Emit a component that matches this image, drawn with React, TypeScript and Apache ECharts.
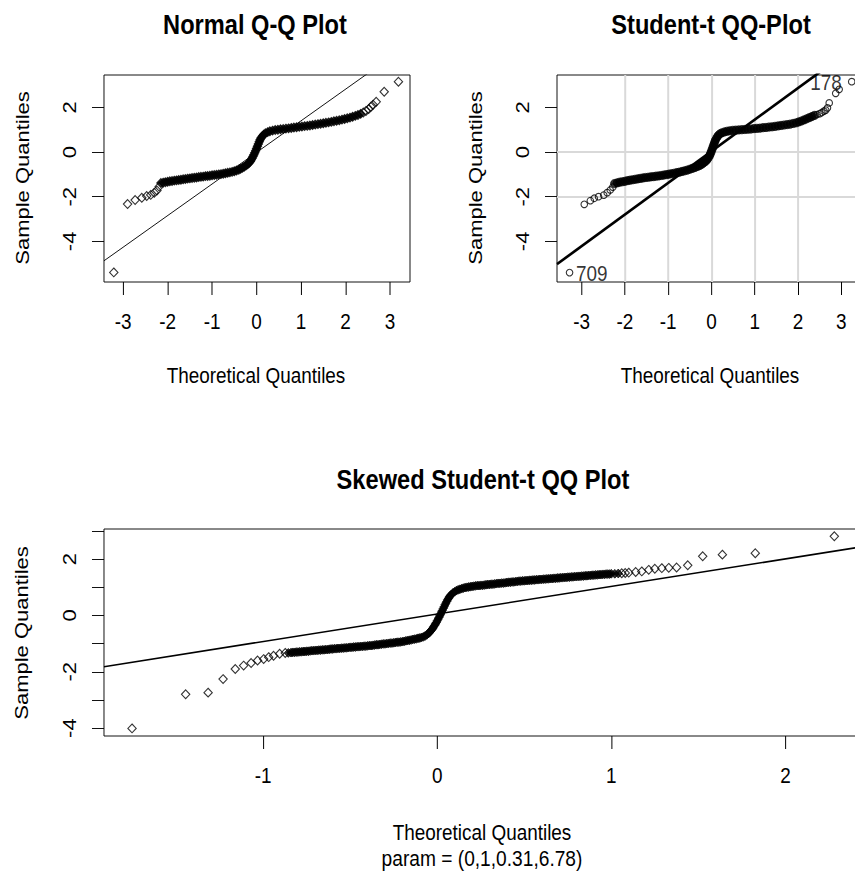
import React, { useEffect, useRef } from 'react';
import * as echarts from 'echarts';

const FONT = '"Liberation Sans", Arial, Helvetica, sans-serif';
const SX = 0.86; // the reference is horizontally compressed
const INNER_W = 1100;

// [theoretical quantile, sample quantile] pairs
// Normal Q-Q
const normalLowTail: number[][] = [
  [-3.21, -5.39], [-2.90, -2.33], [-2.73, -2.15], [-2.58, -2.05], [-2.47, -1.97], [-2.38, -1.92], [-2.30, -1.82], [-2.24, -1.72], [-2.19, -1.55],
];
const normalBody: number[][] = [
  [-2.15, -1.39], [-2.10, -1.37], [-2.05, -1.35], [-2.00, -1.33], [-1.95, -1.31], [-1.90, -1.30], [-1.85, -1.28], [-1.80, -1.27], [-1.75, -1.25],
  [-1.70, -1.24], [-1.65, -1.22], [-1.60, -1.21], [-1.55, -1.19], [-1.50, -1.18], [-1.45, -1.16], [-1.40, -1.15], [-1.35, -1.14], [-1.30, -1.12],
  [-1.25, -1.11], [-1.20, -1.10], [-1.15, -1.08], [-1.10, -1.07], [-1.05, -1.06], [-1.00, -1.04], [-0.95, -1.03], [-0.90, -1.02], [-0.85, -1.00],
  [-0.80, -0.99], [-0.75, -0.97], [-0.70, -0.95], [-0.65, -0.93], [-0.60, -0.91], [-0.55, -0.89], [-0.50, -0.86], [-0.45, -0.83], [-0.40, -0.79],
  [-0.36, -0.75], [-0.32, -0.71], [-0.28, -0.66], [-0.24, -0.61], [-0.20, -0.55], [-0.17, -0.49], [-0.14, -0.42], [-0.12, -0.35], [-0.10, -0.28],
  [-0.08, -0.20], [-0.06, -0.12], [-0.04, -0.03], [-0.02, 0.06], [0.00, 0.16], [0.02, 0.26], [0.04, 0.36], [0.06, 0.46], [0.08, 0.55],
  [0.10, 0.63], [0.13, 0.71], [0.16, 0.78], [0.20, 0.84], [0.25, 0.89], [0.30, 0.93], [0.36, 0.96], [0.42, 0.99], [0.48, 1.00],
  [0.54, 1.02], [0.60, 1.03], [0.66, 1.05], [0.72, 1.06], [0.78, 1.08], [0.84, 1.10], [0.90, 1.11], [0.96, 1.13], [1.02, 1.14],
  [1.08, 1.16], [1.14, 1.17], [1.20, 1.19], [1.26, 1.21], [1.32, 1.23], [1.38, 1.25], [1.44, 1.27], [1.50, 1.29], [1.56, 1.31],
  [1.62, 1.33], [1.68, 1.35], [1.74, 1.38], [1.80, 1.40], [1.86, 1.42], [1.92, 1.45], [1.98, 1.48], [2.04, 1.51], [2.10, 1.54],
  [2.16, 1.58], [2.22, 1.62], [2.28, 1.66], [2.34, 1.71],
];
const normalHighTail: number[][] = [
  [2.40, 1.77], [2.46, 1.84], [2.52, 1.92], [2.57, 2.03], [2.62, 2.12], [2.69, 2.25], [2.87, 2.70], [3.19, 3.15],
];

// Student-t QQ
const studentLowTail: number[][] = [
  [-3.28, -5.40], [-2.94, -2.34], [-2.80, -2.18], [-2.71, -2.07], [-2.61, -2.00], [-2.49, -1.93], [-2.41, -1.82], [-2.34, -1.70], [-2.28, -1.57],
];
const studentBody: number[][] = [
  [-2.24, -1.41], [-2.18, -1.38], [-2.12, -1.35], [-2.06, -1.33], [-2.00, -1.31], [-1.94, -1.28], [-1.88, -1.26], [-1.82, -1.24], [-1.76, -1.22],
  [-1.70, -1.20], [-1.64, -1.18], [-1.58, -1.16], [-1.52, -1.14], [-1.46, -1.13], [-1.40, -1.11], [-1.34, -1.10], [-1.28, -1.08], [-1.22, -1.07],
  [-1.16, -1.05], [-1.10, -1.03], [-1.04, -1.01], [-0.98, -0.99], [-0.92, -0.97], [-0.86, -0.95], [-0.80, -0.92], [-0.74, -0.90], [-0.68, -0.87],
  [-0.62, -0.84], [-0.56, -0.81], [-0.50, -0.77], [-0.44, -0.73], [-0.38, -0.69], [-0.32, -0.64], [-0.27, -0.60], [-0.22, -0.54], [-0.18, -0.48],
  [-0.14, -0.42], [-0.11, -0.36], [-0.08, -0.28], [-0.05, -0.19], [-0.03, -0.10], [-0.01, 0.00], [0.01, 0.10], [0.03, 0.21], [0.05, 0.32],
  [0.07, 0.43], [0.09, 0.53], [0.12, 0.64], [0.15, 0.73], [0.19, 0.81], [0.24, 0.86], [0.30, 0.90], [0.36, 0.93], [0.42, 0.95],
  [0.49, 0.97], [0.56, 0.98], [0.63, 0.99], [0.70, 1.00], [0.77, 1.01], [0.84, 1.02], [0.91, 1.03], [0.98, 1.05], [1.05, 1.06],
  [1.12, 1.07], [1.19, 1.09], [1.26, 1.10], [1.33, 1.12], [1.40, 1.13], [1.47, 1.15], [1.54, 1.17], [1.61, 1.19], [1.68, 1.21],
  [1.75, 1.23], [1.82, 1.25], [1.89, 1.28], [1.96, 1.31], [2.02, 1.35], [2.08, 1.39], [2.14, 1.44], [2.20, 1.49], [2.26, 1.54],
  [2.32, 1.59], [2.38, 1.64],
];
const studentHighTail: number[][] = [
  [2.44, 1.68], [2.50, 1.72], [2.55, 1.77], [2.60, 1.83], [2.64, 1.88], [2.68, 1.98], [2.72, 2.20], [2.87, 2.63], [2.95, 2.81], [3.24, 3.15],
];
const studentOutlierNames = ['709', '178']; // lowest and highest point

// Skewed Student-t QQ
const skewLowTail: number[][] = [
  [-1.753, -4.01], [-1.445, -2.80], [-1.316, -2.74], [-1.230, -2.26], [-1.160, -1.90], [-1.112, -1.78], [-1.069, -1.69], [-1.032, -1.60],
  [-0.997, -1.55], [-0.968, -1.48], [-0.940, -1.43], [-0.905, -1.36], [-0.873, -1.33],
];
const skewBody: number[][] = [
  [-0.855, -1.33], [-0.84, -1.32], [-0.83, -1.31], [-0.82, -1.31], [-0.81, -1.30], [-0.80, -1.30], [-0.79, -1.29], [-0.78, -1.29], [-0.77, -1.28],
  [-0.76, -1.28], [-0.75, -1.27], [-0.74, -1.27], [-0.73, -1.26], [-0.72, -1.25], [-0.71, -1.25], [-0.70, -1.24], [-0.69, -1.24],
  [-0.68, -1.23], [-0.67, -1.23], [-0.66, -1.22], [-0.65, -1.22], [-0.64, -1.21], [-0.63, -1.21], [-0.62, -1.20], [-0.61, -1.19],
  [-0.60, -1.19], [-0.59, -1.18], [-0.58, -1.18], [-0.57, -1.17], [-0.56, -1.17], [-0.55, -1.16], [-0.54, -1.16], [-0.53, -1.15],
  [-0.52, -1.15], [-0.51, -1.14], [-0.50, -1.13], [-0.49, -1.13], [-0.48, -1.12], [-0.47, -1.12], [-0.46, -1.11], [-0.45, -1.11],
  [-0.44, -1.10], [-0.43, -1.10], [-0.42, -1.09], [-0.41, -1.09], [-0.40, -1.08], [-0.39, -1.07], [-0.38, -1.07], [-0.37, -1.06],
  [-0.36, -1.05], [-0.35, -1.04], [-0.34, -1.04], [-0.33, -1.03], [-0.32, -1.02], [-0.31, -1.01], [-0.30, -1.01], [-0.29, -1.00],
  [-0.28, -0.99], [-0.27, -0.98], [-0.26, -0.98], [-0.25, -0.97], [-0.24, -0.96], [-0.23, -0.95], [-0.22, -0.95], [-0.21, -0.94],
  [-0.20, -0.93], [-0.19, -0.92], [-0.18, -0.90], [-0.17, -0.89], [-0.16, -0.88], [-0.15, -0.87], [-0.14, -0.85], [-0.13, -0.84],
  [-0.12, -0.83], [-0.11, -0.81], [-0.10, -0.80], [-0.09, -0.78], [-0.08, -0.76], [-0.07, -0.73], [-0.06, -0.69], [-0.05, -0.64],
  [-0.045, -0.61], [-0.04, -0.57], [-0.035, -0.53], [-0.03, -0.49], [-0.025, -0.45], [-0.02, -0.40], [-0.015, -0.35], [-0.01, -0.30],
  [-0.005, -0.25], [0.00, -0.19], [0.005, -0.13], [0.01, -0.07], [0.015, -0.01], [0.02, 0.05], [0.025, 0.12], [0.03, 0.18],
  [0.035, 0.25], [0.04, 0.31], [0.045, 0.38], [0.05, 0.44], [0.055, 0.50], [0.06, 0.56], [0.065, 0.61], [0.07, 0.66],
  [0.075, 0.70], [0.08, 0.74], [0.09, 0.80], [0.10, 0.84], [0.11, 0.88], [0.12, 0.91], [0.13, 0.93], [0.14, 0.95],
  [0.15, 0.97], [0.16, 0.99], [0.17, 1.00], [0.18, 1.01], [0.19, 1.02], [0.20, 1.03], [0.21, 1.04], [0.22, 1.05],
  [0.23, 1.06], [0.24, 1.06], [0.25, 1.07], [0.26, 1.07], [0.27, 1.08], [0.28, 1.09], [0.29, 1.10], [0.30, 1.10],
  [0.31, 1.11], [0.32, 1.11], [0.33, 1.12], [0.34, 1.13], [0.35, 1.14], [0.36, 1.14], [0.37, 1.15], [0.38, 1.15],
  [0.39, 1.16], [0.40, 1.17], [0.41, 1.18], [0.42, 1.18], [0.43, 1.19], [0.44, 1.19], [0.45, 1.20], [0.46, 1.21],
  [0.47, 1.22], [0.48, 1.22], [0.49, 1.23], [0.50, 1.23], [0.51, 1.24], [0.52, 1.24], [0.53, 1.25], [0.54, 1.25],
  [0.55, 1.26], [0.56, 1.26], [0.57, 1.27], [0.58, 1.27], [0.59, 1.28], [0.60, 1.28], [0.61, 1.29], [0.62, 1.29],
  [0.63, 1.30], [0.64, 1.30], [0.65, 1.31], [0.66, 1.31], [0.67, 1.32], [0.68, 1.32], [0.69, 1.33], [0.70, 1.33],
  [0.71, 1.34], [0.72, 1.34], [0.73, 1.35], [0.74, 1.35], [0.75, 1.36], [0.76, 1.36], [0.77, 1.37], [0.78, 1.37],
  [0.79, 1.38], [0.80, 1.38], [0.81, 1.39], [0.82, 1.39], [0.83, 1.40], [0.84, 1.40], [0.85, 1.41], [0.86, 1.41],
  [0.87, 1.42], [0.88, 1.42], [0.89, 1.43], [0.90, 1.43], [0.91, 1.44], [0.92, 1.44], [0.93, 1.45], [0.94, 1.45],
  [0.95, 1.46], [0.96, 1.46], [0.97, 1.47], [0.98, 1.47], [0.99, 1.47], [1.00, 1.48], [1.02, 1.48], [1.04, 1.49],
];
const skewHighTail: number[][] = [
  [1.06, 1.50], [1.08, 1.51], [1.10, 1.52], [1.14, 1.545], [1.175, 1.565], [1.215, 1.62], [1.25, 1.66], [1.29, 1.68], [1.33, 1.69],
  [1.375, 1.705], [1.439, 1.78], [1.525, 2.10], [1.638, 2.16], [1.827, 2.21], [2.281, 2.81],
];

// reference lines: [intercept, slope]
const normalLine = [-0.017, 1.415];
const studentLine = [0.035, 1.416];
const skewLine = [0.053, 0.978];

const normalXTicks = [-3, -2, -1, 0, 1, 2, 3];
const normalYTicks = [-4, -2, 0, 2];
const studentXTicks = [-3, -2, -1, 0, 1, 2, 3];
const studentYTicks = [-4, -2, 0, 2];
const skewXTicks = [-1, 0, 1, 2];
const skewYTicks = [-4, -3, -2, -1, 0, 1, 2, 3];
const skewYLabels = [-4, -2, 0, 2];

const titles = ['Normal Q-Q Plot', 'Student-t QQ-Plot', 'Skewed Student-t QQ Plot'];
const xName = 'Theoretical Quantiles';
const yName = 'Sample Quantiles';
const subTitle = 'param = (0,1,0.31,6.78)';

const fmt = (v: number) => String(v);

function makeX(gridIndex: number, min: number, max: number, ticks: number[], grid = false) {
  return {
    type: 'value', gridIndex, min, max,
    axisLine: { show: false, onZero: false },
    axisTick: { show: true, customValues: ticks, length: 13, lineStyle: { color: '#000', width: 1 / SX } },
    axisLabel: { show: true, customValues: ticks, margin: 28, fontSize: 22, fontFamily: FONT, color: '#000', formatter: fmt },
    splitLine: { show: grid, showMinLine: false, showMaxLine: false, lineStyle: { color: '#d9d9d9', width: 2 / SX } },
  };
}
function makeY(gridIndex: number, min: number, max: number, ticks: number[], labels: number[], grid = false) {
  return {
    type: 'value', gridIndex, min, max,
    axisLine: { show: false, onZero: false },
    axisTick: { show: true, customValues: ticks, length: 12 / SX, lineStyle: { color: '#000', width: 1 } },
    axisLabel: { show: true, customValues: labels, rotate: 90, margin: 30, fontSize: 22, fontFamily: FONT, color: '#000', formatter: fmt },
    splitLine: { show: grid, showMinLine: false, showMaxLine: false, lineStyle: { color: '#d9d9d9', width: 2 } },
  };
}

function refLine(idx: number, coef: number[], xmin: number, xmax: number, width: number) {
  return {
    type: 'line', xAxisIndex: idx, yAxisIndex: idx, symbol: 'none', silent: true, clip: true,
    data: [[xmin, coef[0] + coef[1] * xmin], [xmax, coef[0] + coef[1] * xmax]],
    lineStyle: { color: '#000', width }, z: 3,
  };
}

const hollow = (w: number) => ({ color: 'none', borderColor: '#000', borderWidth: w });
const solid = (w: number) => ({ color: '#000', borderColor: '#000', borderWidth: w });

function points(idx: number, data: any[], symbol: string, size: number[], style: any) {
  return { type: 'scatter', xAxisIndex: idx, yAxisIndex: idx, data, symbol, symbolSize: size, itemStyle: style, silent: true };
}

export default function App() {
  const ref = useRef<HTMLDivElement>(null);
  useEffect(() => {
    document.body.style.margin = '0';
    const chart = echarts.init(ref.current!, null, { renderer: 'svg' });
    const gridBase = { show: true, borderColor: '#000', borderWidth: 1, backgroundColor: 'transparent' };
    const xr = [[-3.43, 3.45], [-3.57, 3.57], [-1.914, 2.44]];
    const yr = [[-5.82, 3.45], [-5.82, 3.45], [-4.28, 3.07]];
    const lab = (text: string, position: string, distance: number) => ({
      show: true, formatter: text, position, distance, fontFamily: FONT, fontSize: 22, color: '#000',
    });
    const studentTails = [
      ...studentLowTail.map((p, i) => (i === 0 ? { value: p, label: lab(studentOutlierNames[0], 'right', 1) } : { value: p })),
      ...studentHighTail.map((p, i) =>
        i === studentHighTail.length - 1 ? { value: p, label: lab(studentOutlierNames[1], 'left', 5) } : { value: p }),
    ];
    const txt = (sx: number, y: number, text: string, size: number, bold = false, rot = 0) => ({
      type: 'text', x: sx / SX, y, rotation: rot, silent: true,
      style: { text, fontFamily: FONT, fontSize: size, fontWeight: bold ? 'bold' : 'normal', fill: '#000', align: 'center', verticalAlign: 'middle' },
    });
    const dia = [9.7, 8.8];
    const dia3 = [9.7, 8.8];
    const circ = [7.6, 6.6];
    const circBody = [9.3, 8.2];
    chart.setOption({
      animation: false,
      backgroundColor: '#fff',
      grid: [
        { ...gridBase, left: 104 / SX, top: 75, width: 306 / SX, height: 207 },
        { ...gridBase, left: 557 / SX, top: 75, width: 309 / SX, height: 207 },
        { ...gridBase, left: 104 / SX, top: 529, width: 758 / SX, height: 207 },
      ],
      xAxis: [
        makeX(0, xr[0][0], xr[0][1], normalXTicks),
        makeX(1, xr[1][0], xr[1][1], studentXTicks, true),
        makeX(2, xr[2][0], xr[2][1], skewXTicks),
      ],
      yAxis: [
        makeY(0, yr[0][0], yr[0][1], normalYTicks, normalYTicks),
        makeY(1, yr[1][0], yr[1][1], studentYTicks, studentYTicks, true),
        makeY(2, yr[2][0], yr[2][1], skewYTicks, skewYLabels),
      ],
      series: [
        points(0, [...normalLowTail, ...normalHighTail], 'diamond', dia, hollow(1.2)),
        points(0, normalBody, 'diamond', dia, solid(1.2)),
        refLine(0, normalLine, xr[0][0], xr[0][1], 1),
        points(1, studentTails, 'circle', circ, hollow(1.2)),
        points(1, studentBody, 'circle', circBody, solid(1)),
        refLine(1, studentLine, xr[1][0], xr[1][1], 2.8),
        points(2, [...skewLowTail, ...skewHighTail], 'diamond', dia3, hollow(1.2)),
        points(2, skewBody, 'diamond', dia3, solid(1)),
        refLine(2, skewLine, xr[2][0], xr[2][1], 1.6),
      ],
      graphic: [
        txt(255, 24, titles[0], 27.5, true),
        txt(711, 24, titles[1], 27.5, true),
        txt(483, 479, titles[2], 27.5, true),
        txt(256, 375, xName, 22),
        txt(710, 375, xName, 22),
        txt(482, 832, xName, 22),
        txt(482, 858, subTitle, 22.3),
        txt(22, 178, yName, 22, false, Math.PI / 2),
        txt(475, 178, yName, 22, false, Math.PI / 2),
        txt(21, 633, yName, 22, false, Math.PI / 2),
      ],
    });
    return () => chart.dispose();
  }, []);
  return (
    <div style={{ width: 855, height: 876, overflow: 'hidden', position: 'relative', background: '#fff' }}>
      <div
        ref={ref}
        style={{ width: INNER_W, height: 876, transform: `scaleX(${SX})`, transformOrigin: '0 0' }}
      />
    </div>
  );
}
